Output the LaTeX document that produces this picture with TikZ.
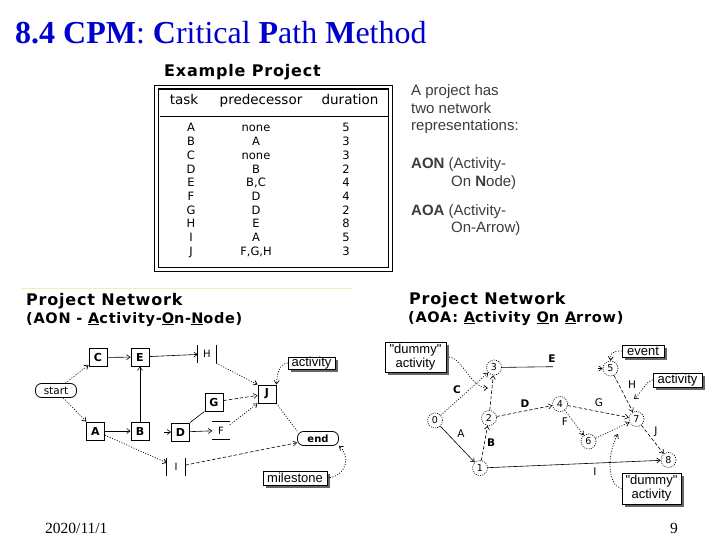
\documentclass[tikz,border=0pt]{standalone}
\usepackage{fontspec}
\setmainfont{Liberation Serif}
\setsansfont{Liberation Sans}[Ligatures=TeXOff]
\newfontfamily\dvs{DejaVu Sans}
\newfontfamily\chic{DejaVu Sans}[LetterSpace=5.0]
\usetikzlibrary{arrows.meta,shadows}
\definecolor{titleblue}{RGB}{0,0,204}
\definecolor{faintyellow}{RGB}{248,236,170}
\definecolor{softtext}{RGB}{60,60,60}
\begin{document}
\begin{tikzpicture}[x=1pt,y=-1pt,
  arr/.style={-{Straight Barb[length=3.5pt,width=5pt]}},
  ln/.style={line width=0.6pt},
  dotln/.style={line width=0.7pt, dash pattern=on 1pt off 1.6pt},
  dashln/.style={line width=0.6pt, dash pattern=on 3.5pt off 2pt},
  aonbox/.style={draw, line width=0.9pt, minimum width=18pt, minimum height=18pt, inner sep=0pt, font=\dvs\bfseries\fontsize{11}{11}\selectfont},
  barbox/.style={minimum width=18pt, minimum height=18pt, inner sep=0pt, font=\dvs\fontsize{10}{10}\selectfont},
  terminal/.style={draw, line width=0.8pt, rounded corners=6pt, minimum width=41pt, minimum height=14pt, inner sep=0pt},
  calbox/.style={draw, fill=white, line width=0.8pt, inner sep=0pt, align=center, drop shadow={shadow xshift=3pt, shadow yshift=-3pt, fill=black!60, opacity=1}, font=\sffamily\fontsize{13}{14}\selectfont},
  evt/.style={circle, draw, line width=0.6pt, dash pattern=on 1pt off 1.2pt, minimum size=15pt, inner sep=0pt, font=\dvs\fontsize{9.5}{9.5}\selectfont},
  elab/.style={inner sep=0pt, font=\dvs\fontsize{10.5}{10.5}\selectfont},
  elabb/.style={inner sep=0pt, font=\dvs\bfseries\fontsize{10.5}{10.5}\selectfont},
  rtext/.style={anchor=base west, inner sep=0pt, text=softtext, font=\sffamily\fontsize{15}{15}\selectfont},
  hdtext/.style={anchor=base west, inner sep=0pt, font=\chic\bfseries\fontsize{14.5}{14.5}\selectfont},
  bighd/.style={hdtext, font=\chic\bfseries\fontsize{16}{16}\selectfont},
  cellt/.style={anchor=base, inner sep=0pt, font=\dvs\fontsize{11.5}{11.5}\selectfont},
  hcell/.style={anchor=base, inner sep=0pt, font=\dvs\fontsize{13.5}{13.5}\selectfont}
]
\useasboundingbox (0,0) rectangle (720,540);

% title
\node[anchor=base west, inner sep=0pt, text=titleblue, font=\rmfamily\fontsize{32}{32}\selectfont] (title) at (15,44) {\textbf{8.4 CPM}: \textbf{C}ritical \textbf{P}ath \textbf{M}ethod};

% table
\node[bighd] (exhead) at (164,77) {Example Project};
\draw[line width=0.5pt] (154.5,85) rectangle (392,271);
\draw[line width=1.8pt] (158.5,89) rectangle (388.5,267.5);
\draw[line width=0.6pt] (159.5,116) -- (387.5,116);
\node[hcell] (htask) at (184,105) {task};
\node[hcell] (hpred) at (261,105) {predecessor};
\node[hcell] (hdur) at (350,105) {duration};
\foreach \t/\p/\d [count=\i from 0] in {A/none/5,B/A/3,C/none/3,D/B/2,E/{B,C}/4,F/D/4,G/D/2,H/E/8,I/A/5,J/{F,G,H}/3}{
  \node[cellt] (t\i) at (191,132+13.7*\i) {\t};
  \node[cellt] (p\i) at (256,132+13.7*\i) {\p};
  \node[cellt] (d\i) at (346,132+13.7*\i) {\d};
}

% right text
\node[rtext] (r1) at (411,95.5) {A project has};
\node[rtext] (r2) at (411,114) {two network};
\node[rtext] (r3) at (411,131) {representations:};
\node[rtext] (r4) at (411,169) {\textbf{AON} (Activity-};
\node[rtext] (r5) at (451,187) {On \textbf{N}ode)};
\node[rtext] (r6) at (411,215) {\textbf{AOA} (Activity-};
\node[rtext] (r7) at (451,233) {On-Arrow)};

% AON headings
\draw[faintyellow, line width=0.8pt] (22,288) -- (352,288);
\node[bighd] (aonh1) at (26,305) {Project Network};
\node[hdtext] (aonh2) at (26,323) {(AON - \underline{A}ctivity-\underline{O}n-\underline{N}ode)};

% AON nodes
\node[terminal, font=\dvs\fontsize{10.5}{10.5}\selectfont] (startn) at (56,390.5) {start};
\node[aonbox] (C) at (98,357.5) {C};
\node[aonbox] (E) at (140,357) {E};
\node[aonbox] (A) at (95.5,431) {A};
\node[aonbox] (B) at (140,431) {B};
\node[aonbox] (D) at (180.5,432) {D};
\node[barbox, minimum height=17pt] (I) at (176,467) {I};
\draw[line width=0.9pt] (I.north west) -- (I.south west) (I.north east) -- (I.south east);
\node[barbox] (H) at (207,354) {H};
\draw[line width=0.9pt] (H.north west) -- (H.south west) (H.north east) -- (H.south east);
\node[aonbox] (G) at (214,402) {G};
\node[barbox, minimum width=17pt, minimum height=17pt] (F) at (221,430.5) {F};
\draw[line width=0.9pt] (F.north west) -- (F.north east) (F.south west) -- (F.south east);
\node[aonbox] (J) at (267,394) {J};
\node[terminal, font=\dvs\bfseries\fontsize{10}{10}\selectfont] (endn) at (318,438.5) {end};
\node[calbox, minimum width=47pt, minimum height=12pt] (actA) at (311.5,363) {activity};
\node[calbox, minimum width=64pt, minimum height=14pt] (mile) at (295,478) {milestone};
\coordinate (din) at (164,432);

% AON edges
\draw[dotln,arr] (startn) -- (C);
\draw[dotln,arr] (startn) -- (A);
\draw[ln,arr] (C) -- (E);
\draw[ln,arr] (B) -- (E);
\draw[ln,arr] (A) -- (B);
\draw[dotln,arr] (A) -- (I);
\draw[ln,arr] (E) -- (H);
\draw[dotln,arr] (H.south east) -- (J.north west);
\draw[dashln,arr] (G) -- (J);
\draw[dotln,arr] ([yshift=-3pt]F.north east) -- (J.south west);
\draw[ln] (D.north east) -- (G.south west);
\draw[ln,arr] (D) -- (F);
\draw[ln,arr] (din) -- (D);
\draw[dotln] (J.south east) -- (endn.north west);
\draw[dashln,arr] (I) -- (endn);
\draw[dotln,arr] (actA.west) .. controls (279,364) and (277,374) .. (J.north east);
\draw[dotln,arr] (mile.east) .. controls (348,476) and (350,455) .. (endn.south east);

% AOA headings
\node[bighd] (aoah1) at (409,304) {Project Network};
\node[hdtext] (aoah2) at (408,322) {(AOA: \underline{A}ctivity \underline{O}n \underline{A}rrow)};

% AOA nodes
\node[evt] (n0) at (435,420.5) {0};
\node[evt] (n1) at (480,468) {1};
\node[evt] (n2) at (489,418) {2};
\node[evt] (n3) at (494,367.5) {3};
\node[evt] (n4) at (560,404) {4};
\node[evt] (n5) at (610.5,368.5) {5};
\node[evt] (n6) at (588.5,441.5) {6};
\node[evt] (n7) at (636.5,419) {7};
\node[evt] (n8) at (668.5,460) {8};
\coordinate (eend) at (553,366.7);
\coordinate (fin) at (598,368.5);
\coordinate (dumtipA) at (488,388);
\coordinate (acttip) at (634,399);
\coordinate (dumtipB) at (618,434);

% AOA edges
\draw[dotln,arr] (n0) -- (n3);
\draw[ln,arr] (n0) -- (n1);
\draw[dashln,arr] (n1) -- (n2);
\draw[dashln,arr] (n2) -- (n3);
\draw[dashln,arr] (n2) -- (n4);
\draw[ln] (n3) -- (eend);
\draw[ln,arr] (fin) -- (n5);
\draw[dashln,arr] (n4) -- (n7);
\draw[dotln,arr] (n4) -- (n6);
\draw[dotln,arr] (n6) -- (n7);
\draw[dashln,arr] (n5) -- (n7);
\draw[dashln,arr] (n7) -- (n8);
\draw[ln,arr] (n1) -- (n8);

% AOA edge labels
\node[elabb] (lC) at (457,390) {C};
\node[elab] (lA) at (461,434) {A};
\node[elabb] (lB) at (491,443) {B};
\node[elabb] (lD) at (525,403.5) {D};
\node[elabb] (lE) at (552,359) {E};
\node[elab] (lG) at (599,403) {G};
\node[elab] (lF) at (565,422) {F};
\node[elab] (lH) at (632,385) {H};
\node[elab] (lJ) at (656,432) {J};
\node[elab] (lI) at (595,472) {I};

% AOA callouts
\node[calbox, minimum width=61pt, minimum height=30pt] (dumA) at (415.5,357) {"dummy"\\activity};
\node[calbox, minimum width=42pt, minimum height=12pt] (evbox) at (643,351) {event};
\node[calbox, minimum width=49pt, minimum height=14pt] (actB) at (677.5,380) {activity};
\node[calbox, minimum width=59pt, minimum height=31pt] (dumB) at (651.5,488.5) {"dummy"\\activity};
\draw[dotln,arr] (dumA.east) .. controls (462,355) and (470,388) .. (dumtipA);
\draw[dotln,arr] (evbox.west) .. controls (610,351) and (611,354) .. (n5.north);
\draw[dotln,arr] (actB.west) .. controls (645,382) and (642,392) .. (acttip);
\draw[dotln,arr] (dumB.west) .. controls (608,486) and (606,456) .. (dumtipB);

% footer
\node[anchor=base west, inner sep=0pt, font=\rmfamily\fontsize{15.5}{15.5}\selectfont] (date) at (45,533) {2020/11/1};
\node[anchor=base west, inner sep=0pt, font=\rmfamily\fontsize{15.5}{15.5}\selectfont] (pnum) at (670,533) {9};
\end{tikzpicture}
\end{document}
